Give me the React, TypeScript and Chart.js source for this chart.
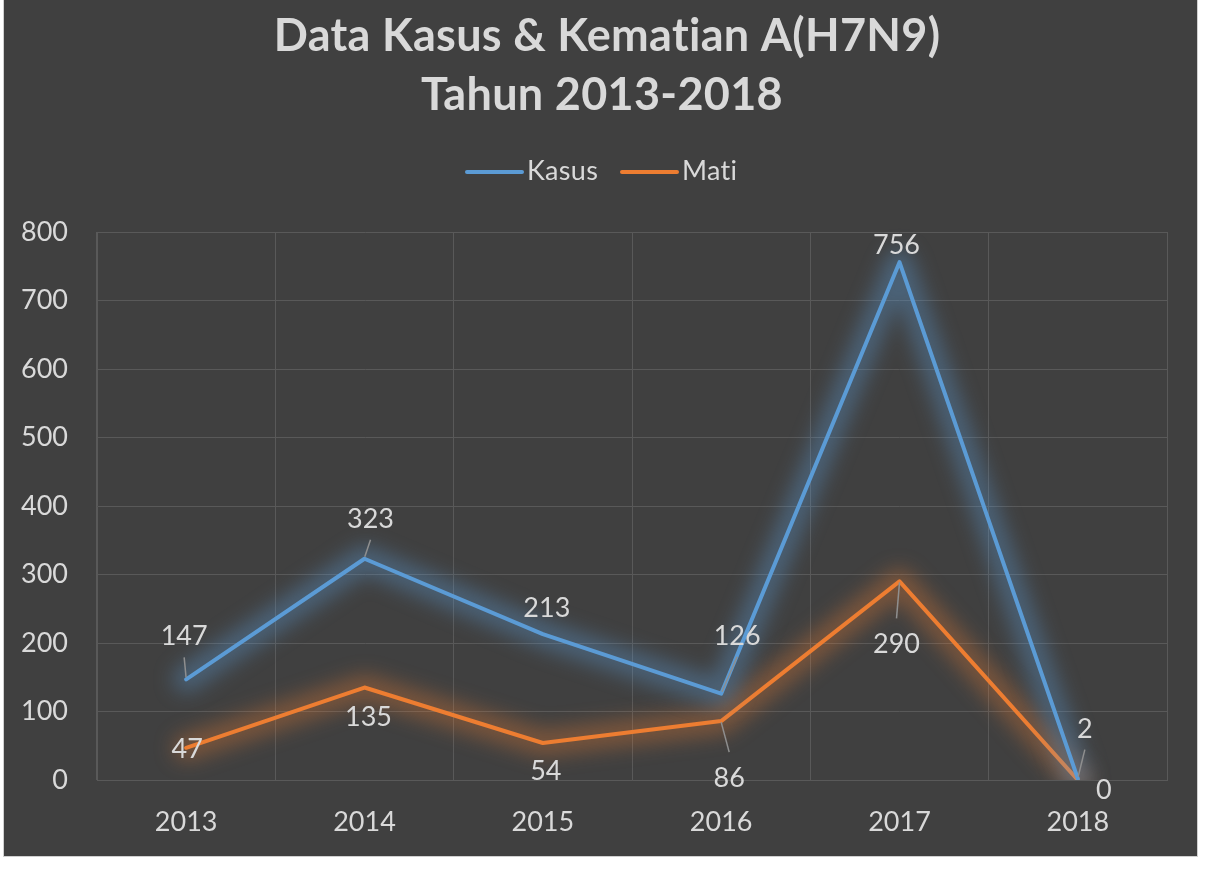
import React, { useEffect, useRef } from "react";
import { Chart, registerables } from "chart.js";

Chart.register(...registerables);

const categories = ["2013", "2014", "2015", "2016", "2017", "2018"];
const kasusValues = [147, 323, 213, 126, 756, 2];
const matiValues = [47, 135, 54, 86, 290, 0];
const yTicks = [0, 100, 200, 300, 400, 500, 600, 700, 800];
const titleLines = ["Data Kasus & Kematian A(H7N9)", "Tahun 2013-2018"];
const seriesNames = ["Kasus", "Mati"];

// label placement (style): [dx, dy(baseline), leader]
const kasusLabelStyle: [number, number, boolean][] = [
  [-2, -34, true],
  [6, -31, true],
  [4, -17, false],
  [16, -49, true],
  [-3, -8, false],
  [7, -41, true],
];
const matiLabelStyle: [number, number, boolean][] = [
  [1, 10, false],
  [4, 38, false],
  [3, 37, false],
  [8, 66, true],
  [-3, 72, true],
  [26, 19, false],
];

const W = 1215;
const H = 884;
const BLUE = "#5b9bd5";
const ORANGE = "#ed7d31";
const TEXT = "#d9d9d9";
const GRID = "#595959";
const FONT = "Lato, 'Open Sans', sans-serif";

const noLig = (ctx: any) => {
  try {
    ctx.letterSpacing = "0.3px";
  } catch (e) {}
};

const backgroundPlugin = {
  id: "bg",
  beforeDraw(chart: any) {
    const ctx = chart.ctx;
    ctx.save();
    ctx.fillStyle = "#ffffff";
    ctx.fillRect(0, 0, W, H);
    ctx.fillStyle = "#404040";
    ctx.fillRect(3, -2, 1195, 859);
    ctx.strokeStyle = "#d0d0d0";
    ctx.lineWidth = 1;
    ctx.strokeRect(3.5, -2, 1194, 858.5);
    // title
    noLig(ctx);
    ctx.fillStyle = TEXT;
    ctx.textAlign = "center";
    ctx.textBaseline = "alphabetic";
    ctx.font = "bold 45px " + FONT;
    ctx.fillText(titleLines[0], 607, 51);
    ctx.fillText(titleLines[1], 602, 110);
    // legend
    const items = [
      { name: seriesNames[0], color: BLUE, x: 467 },
      { name: seriesNames[1], color: ORANGE, x: 622 },
    ];
    ctx.font = "27px " + FONT;
    ctx.textAlign = "left";
    items.forEach((it) => {
      ctx.strokeStyle = it.color;
      ctx.lineWidth = 4;
      ctx.lineCap = "round";
      ctx.beginPath();
      ctx.moveTo(it.x, 172);
      ctx.lineTo(it.x + 55, 172);
      ctx.stroke();
      ctx.fillStyle = TEXT;
      ctx.fillText(it.name, it.x + 60, 180);
    });
    ctx.restore();
  },
};

const glowColors = ["rgba(91,155,213,0.38)", "rgba(237,125,49,0.34)"];
const glowPlugin = {
  id: "glow",
  beforeDatasetDraw(chart: any, args: any) {
    const ctx = chart.ctx;
    const pts = args.meta.data;
    const a = chart.chartArea;
    ctx.save();
    ctx.beginPath();
    ctx.rect(a.left, a.top - 40, a.right - a.left, a.bottom - a.top + 40);
    ctx.clip();
    ctx.filter = "blur(10px)";
    ctx.strokeStyle = glowColors[args.index];
    ctx.lineWidth = 26;
    ctx.lineJoin = "round";
    ctx.lineCap = "round";
    ctx.beginPath();
    pts.forEach((p: any, i: number) => {
      if (i === 0) ctx.moveTo(p.x, p.y);
      else ctx.lineTo(p.x, p.y);
    });
    ctx.stroke();
    ctx.restore();
  },
};

const labelPlugin = {
  id: "vlabels",
  afterDatasetsDraw(chart: any) {
    const ctx = chart.ctx;
    const styles = [kasusLabelStyle, matiLabelStyle];
    ctx.save();
    ctx.font = "27px " + FONT;
    ctx.textAlign = "center";
    ctx.textBaseline = "alphabetic";
    chart.data.datasets.forEach((ds: any, di: number) => {
      const meta = chart.getDatasetMeta(di);
      meta.data.forEach((pt: any, i: number) => {
        const [dx, dy, leader] = styles[di][i];
        const lx = pt.x + dx;
        const ly = pt.y + dy;
        if (leader) {
          ctx.strokeStyle = "#8f8f8f";
          ctx.lineWidth = 1.5;
          ctx.beginPath();
          if (dy < 0) {
            ctx.moveTo(pt.x + (lx - pt.x) * 0.05, pt.y - 2);
            ctx.lineTo(lx, ly + 12);
          } else {
            ctx.moveTo(pt.x, pt.y + 1);
            ctx.lineTo(lx, ly - 35);
          }
          ctx.stroke();
        }
        ctx.fillStyle = TEXT;
        ctx.fillText(String(ds.data[i]), lx, ly);
      });
    });
    ctx.restore();
  },
};

export default function App() {
  const ref = useRef<HTMLCanvasElement | null>(null);
  useEffect(() => {
    document.body.style.margin = "0";
    const chart = new Chart(ref.current as HTMLCanvasElement, {
      type: "line",
      data: {
        labels: categories,
        datasets: [
          {
            label: seriesNames[0],
            data: kasusValues,
            borderColor: BLUE,
            backgroundColor: BLUE,
            borderWidth: 4,
            pointRadius: 0,
            tension: 0,
            borderJoinStyle: "round",
            borderCapStyle: "round",
          },
          {
            label: seriesNames[1],
            data: matiValues,
            borderColor: ORANGE,
            backgroundColor: ORANGE,
            borderWidth: 4,
            pointRadius: 0,
            tension: 0,
            borderJoinStyle: "round",
            borderCapStyle: "round",
          },
        ],
      },
      options: {
        responsive: false,
        animation: false,
        devicePixelRatio: 1,
        layout: { padding: { top: 232, left: 0, right: 48, bottom: 0 } },
        plugins: {
          legend: { display: false },
          title: { display: false },
          tooltip: { enabled: false },
        },
        scales: {
          x: {
            offset: true,
            grid: { offset: true, color: GRID, lineWidth: 1, drawTicks: false },
            border: { display: true, color: GRID },
            ticks: { color: TEXT, font: { family: FONT, size: 27 }, padding: 26 },
            afterFit: (s: any) => {
              s.height = 104;
            },
          },
          y: {
            min: 0,
            max: 800,
            afterBuildTicks: (s: any) => {
              s.ticks = yTicks.map((v) => ({ value: v }));
            },
            grid: { color: GRID, lineWidth: 1, drawTicks: false },
            border: { display: true, color: GRID },
            ticks: { color: TEXT, font: { family: FONT, size: 27 }, padding: 29 },
            afterFit: (s: any) => {
              s.width = 97;
            },
          },
        },
      },
      plugins: [backgroundPlugin, glowPlugin, labelPlugin],
    } as any);
    return () => chart.destroy();
  }, []);
  return <canvas ref={ref} width={W} height={H} style={{ display: "block" }} />;
}
